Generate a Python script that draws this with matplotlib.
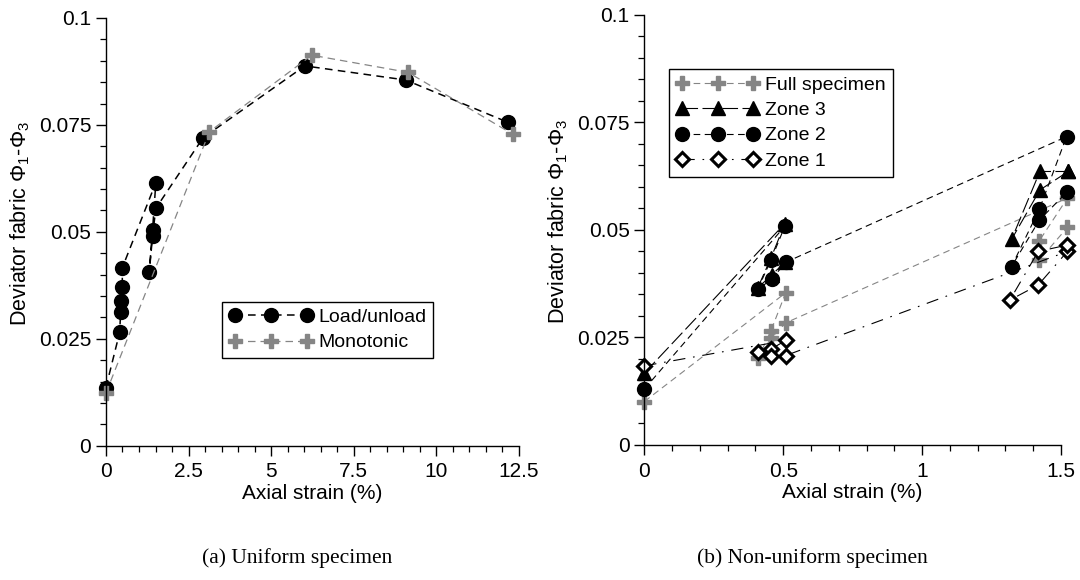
import numpy as np
import matplotlib
matplotlib.use("Agg")
import matplotlib.pyplot as plt
from matplotlib.ticker import MultipleLocator

plt.rcParams['font.family'] = ['Liberation Sans', 'DejaVu Sans']
plt.rcParams['mathtext.fontset'] = 'custom'
plt.rcParams['mathtext.rm'] = 'Liberation Sans'
plt.rcParams['mathtext.it'] = 'Liberation Sans:italic'
plt.rcParams['font.size'] = 15

# (a) uniform specimen
load_x = [0, 0.415, 0.445, 0.445, 0.495, 0.495, 1.51, 1.41, 1.31, 1.41, 1.51, 2.94, 6.02, 9.07, 12.17]
load_y = [0.0136, 0.0265, 0.0313, 0.0339, 0.037, 0.0416, 0.0615, 0.0504, 0.0405, 0.049, 0.0555,
          0.072, 0.0888, 0.0855, 0.0756]
mono_x = [0, 3.13, 6.23, 9.14, 12.32]
mono_y = [0.0123, 0.0734, 0.0913, 0.0873, 0.0728]

# (b) non-uniform specimen
full_x = [0, 0.509, 0.456, 0.41, 0.456, 0.509, 1.523, 1.422, 1.422, 1.523]
full_y = [0.0101, 0.0354, 0.0266, 0.0202, 0.0248, 0.0284, 0.0574, 0.0475, 0.043, 0.0506]
zone3_x = [0, 0.506, 0.456, 0.408, 0.458, 0.506, np.nan, 1.526, 1.424, 1.322, 1.424, 1.526]
zone3_y = [0.0167, 0.0515, 0.0435, 0.0365, 0.0395, 0.0425, np.nan, 0.0636, 0.0593, 0.0478, 0.0636, 0.0636]
zone2_x = [0, 0.506, 0.456, 0.408, 0.458, 0.509, 1.52, 1.422, 1.322, 1.422, 1.523]
zone2_y = [0.013, 0.0509, 0.043, 0.0362, 0.0385, 0.0425, 0.0717, 0.0548, 0.0415, 0.0523, 0.0589]
zone1_x = [0, 0.509, 0.456, 0.408, 0.456, 0.509, 1.523, 1.418, 1.316, 1.418, 1.523]
zone1_y = [0.0184, 0.0243, 0.0223, 0.0216, 0.0207, 0.0208, 0.045, 0.0372, 0.0337, 0.045, 0.0465]

y_ticks = [0, 0.025, 0.05, 0.075, 0.1]
y_labels = ['0', '0.025', '0.05', '0.075', '0.1']
xa_ticks = [0, 2.5, 5, 7.5, 10, 12.5]
xa_labels = ['0', '2.5', '5', '7.5', '10', '12.5']
xb_ticks = [0, 0.5, 1, 1.5]
xb_labels = ['0', '0.5', '1', '1.5']

GRAY = '#858585'

fig = plt.figure(figsize=(10.8, 5.8), dpi=100)
ax1 = fig.add_axes([0.0981, 0.2316, 0.3824, 0.7374])
ax2 = fig.add_axes([0.5966, 0.2328, 0.3858, 0.7414])


def style_axes(ax, xticks, xlabels, xminor):
    ax.set_ylim(0, 0.1)
    ax.set_xlim(xticks[0], xticks[-1])
    ax.set_xticks(xticks, xlabels)
    ax.set_yticks(y_ticks, y_labels)
    ax.xaxis.set_minor_locator(MultipleLocator(xminor))
    ax.yaxis.set_minor_locator(MultipleLocator(0.005))
    ax.tick_params(which='major', direction='out', length=7, width=1, labelsize=15)
    ax.tick_params(axis='x', which='major', pad=5)
    ax.tick_params(which='minor', direction='out', length=4, width=0.9)
    for s in ['top', 'right']:
        ax.spines[s].set_visible(False)
    for s in ['left', 'bottom']:
        ax.spines[s].set_linewidth(1)
    ax.set_xlabel('Axial strain (%)', fontsize=15, labelpad=2)
    ax.set_ylabel(r'Deviator fabric $\mathrm{\Phi}_1$-$\mathrm{\Phi}_3$', fontsize=15.5)


def make_legend(ax, anchor):
    leg = ax.legend(loc='upper left', bbox_to_anchor=anchor, numpoints=3,
                    handlelength=4.3, fancybox=False, edgecolor='black', framealpha=1,
                    borderpad=0.35, labelspacing=0.4, handletextpad=0.3, fontsize=14,
                    borderaxespad=0)
    leg.get_frame().set_linewidth(1)


# left panel
ax1.plot(load_x, load_y, color='black', lw=1.1, linestyle=(0, (5, 3.5)),
         marker='o', markersize=10, markerfacecolor='black', markeredgecolor='black',
         label='Load/unload', clip_on=False)
ax1.plot(mono_x, mono_y, color=GRAY, lw=0.9, linestyle=(0, (6, 4)),
         marker='P', markersize=10.5, markerfacecolor=GRAY, markeredgecolor=GRAY,
         label='Monotonic', clip_on=False)
style_axes(ax1, xa_ticks, xa_labels, 0.5)
ax1.yaxis.set_label_coords(-0.18, 0.52)
make_legend(ax1, (0.281, 0.337))

# right panel
ax2.plot(full_x, full_y, color=GRAY, lw=0.8, linestyle=(0, (6, 4)),
         marker='P', markersize=10.5, markerfacecolor=GRAY, markeredgecolor=GRAY,
         label='Full specimen', clip_on=False)
ax2.plot(zone3_x, zone3_y, color='black', lw=0.8, linestyle=(0, (14, 4)),
         marker='^', markersize=10, markerfacecolor='black', markeredgecolor='black',
         label='Zone 3', clip_on=False)
ax2.plot(zone2_x, zone2_y, color='black', lw=0.8, linestyle=(0, (6, 4)),
         marker='o', markersize=10, markerfacecolor='black', markeredgecolor='black',
         label='Zone 2', clip_on=False)
ax2.plot(zone1_x, zone1_y, color='black', lw=0.8, linestyle=(0, (11, 7, 1.5, 7)),
         marker='D', markersize=6.8, markerfacecolor='white', markeredgecolor='black',
         markeredgewidth=2.2, label='Zone 1', clip_on=False)
style_axes(ax2, xb_ticks, xb_labels, 0.1)
ax2.yaxis.set_label_coords(-0.178, 0.52)
make_legend(ax2, (0.059, 0.874))

fig.text(297 / 1080, 1 - 558 / 580, '(a) Uniform specimen', ha='center', va='center',
         fontsize=15.5, family='Liberation Serif')
fig.text(812 / 1080, 1 - 558 / 580, '(b) Non-uniform specimen', ha='center', va='center',
         fontsize=15.5, family='Liberation Serif')

fig.savefig('out.png', dpi=100)
